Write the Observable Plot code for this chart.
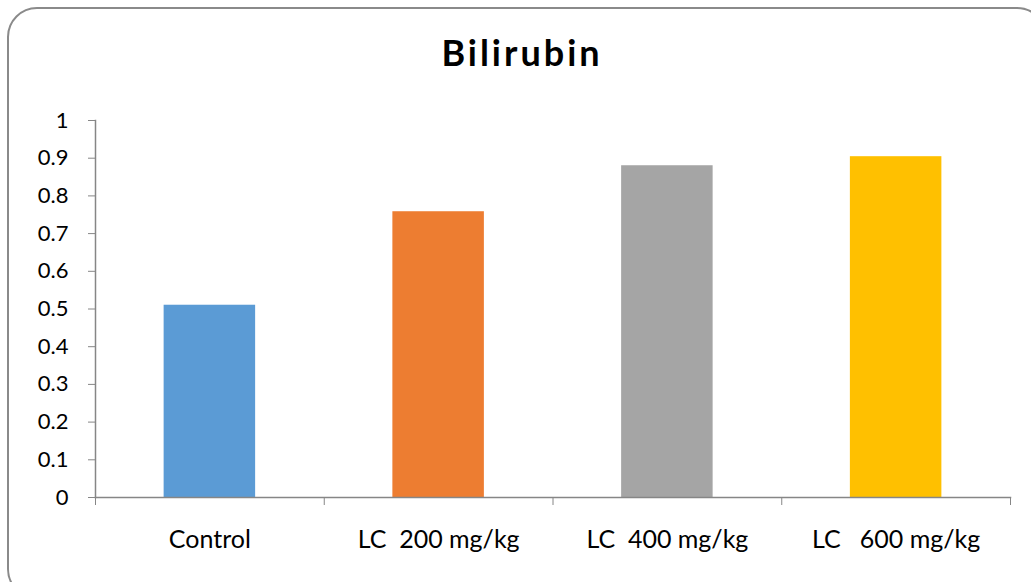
<!DOCTYPE html>
<html>
<head>
<meta charset="utf-8">
<script src="https://cdn.jsdelivr.net/npm/d3@7"></script>
<script src="https://cdn.jsdelivr.net/npm/@observablehq/plot@0.6"></script>
<style>
  html, body { margin: 0; padding: 0; background: #fff; overflow: hidden; }
  #wrap { position: relative; width: 1031px; height: 582px; overflow: hidden; font-family: Lato, "Open Sans", sans-serif; }
  #frame { position: absolute; left: 7px; top: 7px; width: 1040px; height: 592px; border: 2px solid #8a8a8a; border-radius: 30px; box-sizing: border-box; }
  #title { position: absolute; left: 0; width: 1044px; top: 28px; text-align: center; font-size: 36px; letter-spacing: 3px; font-weight: bold; color: #000; line-height: 48px; }
  #chart { position: absolute; left: 0; top: 0; }
  #chart svg text { white-space: pre; }
</style>
</head>
<body>
<div id="wrap">
  <div id="frame"></div>
  <div id="title">Bilirubin</div>
  <div id="chart"></div>
</div>
<script>
const categories = ["Control", "LC  200 mg/kg", "LC  400 mg/kg", "LC   600 mg/kg"];
const values = [0.51, 0.758, 0.88, 0.904];
const colors = ["#5B9BD5", "#ED7D31", "#A5A5A5", "#FFC000"];
const yTicks = [0, 0.1, 0.2, 0.3, 0.4, 0.5, 0.6, 0.7, 0.8, 0.9, 1];

const data = categories.map((c, i) => ({cat: c, i, value: values[i], color: colors[i]}));
const axisColor = "#868686";

const chart = Plot.plot({
  width: 1031,
  height: 582,
  marginTop: 120,
  marginBottom: 85,
  marginLeft: 95,
  marginRight: 21,
  style: {fontFamily: "Lato, 'Open Sans', sans-serif", fontSize: "20px", color: "#000", background: "transparent", overflow: "visible"},
  x: {type: "linear", domain: [0, categories.length], axis: null, label: null},
  y: {domain: [0, 1], axis: null, label: null},
  marks: [
    Plot.rectY(data, {x1: d => d.i + 0.3, x2: d => d.i + 0.7, y: "value", fill: "color"}),
    Plot.axisY({ticks: yTicks, tickFormat: d => String(d), label: null, tickSize: 7, tickPadding: 20, stroke: axisColor, strokeOpacity: 1, fill: "#000", fontSize: 22}),
    Plot.axisX({ticks: d3.range(categories.length + 1), tickFormat: () => "", label: null, tickSize: 8, stroke: axisColor, strokeOpacity: 1}),
    Plot.axisX({ticks: categories.map((c, i) => i + 0.5), tickFormat: d => categories[Math.floor(d)], label: null, tickSize: 0, tickPadding: 33, fill: "#000", fontSize: 25}),
    Plot.frame({anchor: "left", stroke: axisColor, strokeWidth: 1.5}),
    Plot.frame({anchor: "bottom", stroke: axisColor, strokeWidth: 1.5})
  ]
});
document.getElementById("chart").appendChild(chart);
</script>
</body>
</html>
